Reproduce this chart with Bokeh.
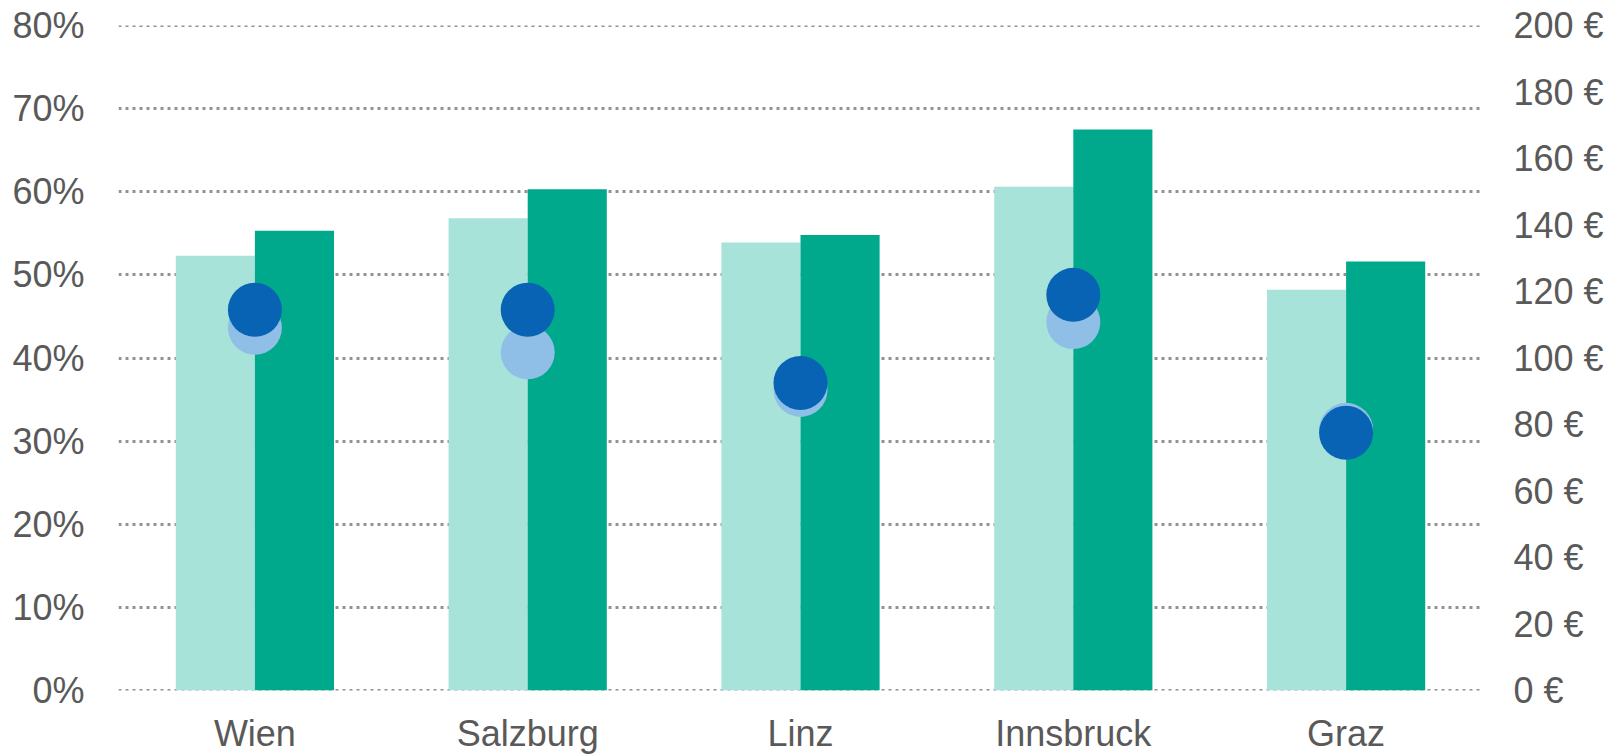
from bokeh.plotting import figure
from bokeh.models import (FactorRange, Range1d, LinearAxis, FixedTicker,
                          PrintfTickFormatter, ColumnDataSource)
from bokeh.transform import dodge
from bokeh.embed import file_html
from bokeh.resources import INLINE

# ---- data ----
cities = ["Wien", "Salzburg", "Linz", "Innsbruck", "Graz"]
occupancy_prev = [52.3, 56.8, 53.9, 60.6, 48.2]   # % (light bars)
occupancy_curr = [55.3, 60.3, 54.8, 67.5, 51.6]   # % (dark bars)
price_prev = [109.1, 101.7, 90.4, 110.8, 78.4]    # € (light dots)
price_curr = [114.5, 114.5, 92.5, 119.0, 77.5]    # € (dark dots)
pct_ticks = [0, 10, 20, 30, 40, 50, 60, 70, 80]
eur_ticks = [0, 20, 40, 60, 80, 100, 120, 140, 160, 180, 200]

src = ColumnDataSource(dict(city=cities, occ_prev=occupancy_prev, occ_curr=occupancy_curr,
                            pr_prev=price_prev, pr_curr=price_curr))

FONT = "Liberation Sans"
TXT = "#595959"
GRID = "#929292"

p = figure(x_range=FactorRange(*cities, range_padding=0), y_range=Range1d(0, 80),
           frame_width=1364, frame_height=665,
           min_border_left=118, min_border_right=130, min_border_top=25, min_border_bottom=58,
           output_backend="svg", toolbar_location=None, background_fill_color="white",
           border_fill_color="white")
p.outline_line_color = None
p.extra_y_ranges = {"eur": Range1d(0, 200)}

# grid
p.xgrid.grid_line_color = None
p.ygrid.ticker = FixedTicker(ticks=pct_ticks)
p.ygrid.grid_line_color = GRID
p.ygrid.grid_line_width = 3
p.ygrid.grid_line_dash = "3 4"

# edge grid lines (0% and 80%) that the grid skips at range bounds
p.hspan(y=[pct_ticks[0], pct_ticks[-1]], line_color=GRID, line_width=3, line_dash="3 4",
        level="underlay")

# bars
bw = 0.29
p.vbar(x=dodge("city", -bw / 2, range=p.x_range), top="occ_prev", width=bw, source=src,
       fill_color="#A8E3D9", line_color=None)
p.vbar(x=dodge("city", bw / 2, range=p.x_range), top="occ_curr", width=bw, source=src,
       fill_color="#00A98B", line_color=None)

# dots
p.scatter(x="city", y="pr_prev", source=src, y_range_name="eur", size=54,
          fill_color="#8FBFE7", line_color=None)
p.scatter(x="city", y="pr_curr", source=src, y_range_name="eur", size=54,
          fill_color="#0863B5", line_color=None)

def style_axis(ax):
    ax.axis_line_color = None
    ax.major_tick_line_color = None
    ax.minor_tick_line_color = None
    ax.major_tick_in = 0
    ax.major_tick_out = 0
    ax.major_label_text_font = FONT
    ax.major_label_text_font_size = "36px"
    ax.major_label_text_color = TXT

# left axis
la = p.yaxis[0]
la.ticker = FixedTicker(ticks=pct_ticks)
la.formatter = PrintfTickFormatter(format="%d%%")
style_axis(la)
la.major_label_standoff = 34

# right axis
ra = LinearAxis(y_range_name="eur", ticker=FixedTicker(ticks=eur_ticks),
                formatter=PrintfTickFormatter(format="%d €"))
style_axis(ra)
ra.major_label_standoff = 31
p.add_layout(ra, "right")

# bottom axis
ba = p.xaxis[0]
style_axis(ba)
ba.major_label_standoff = 22
ba.group_text_font_size = "0px"

open("out.html", "w").write(file_html(p, INLINE))
